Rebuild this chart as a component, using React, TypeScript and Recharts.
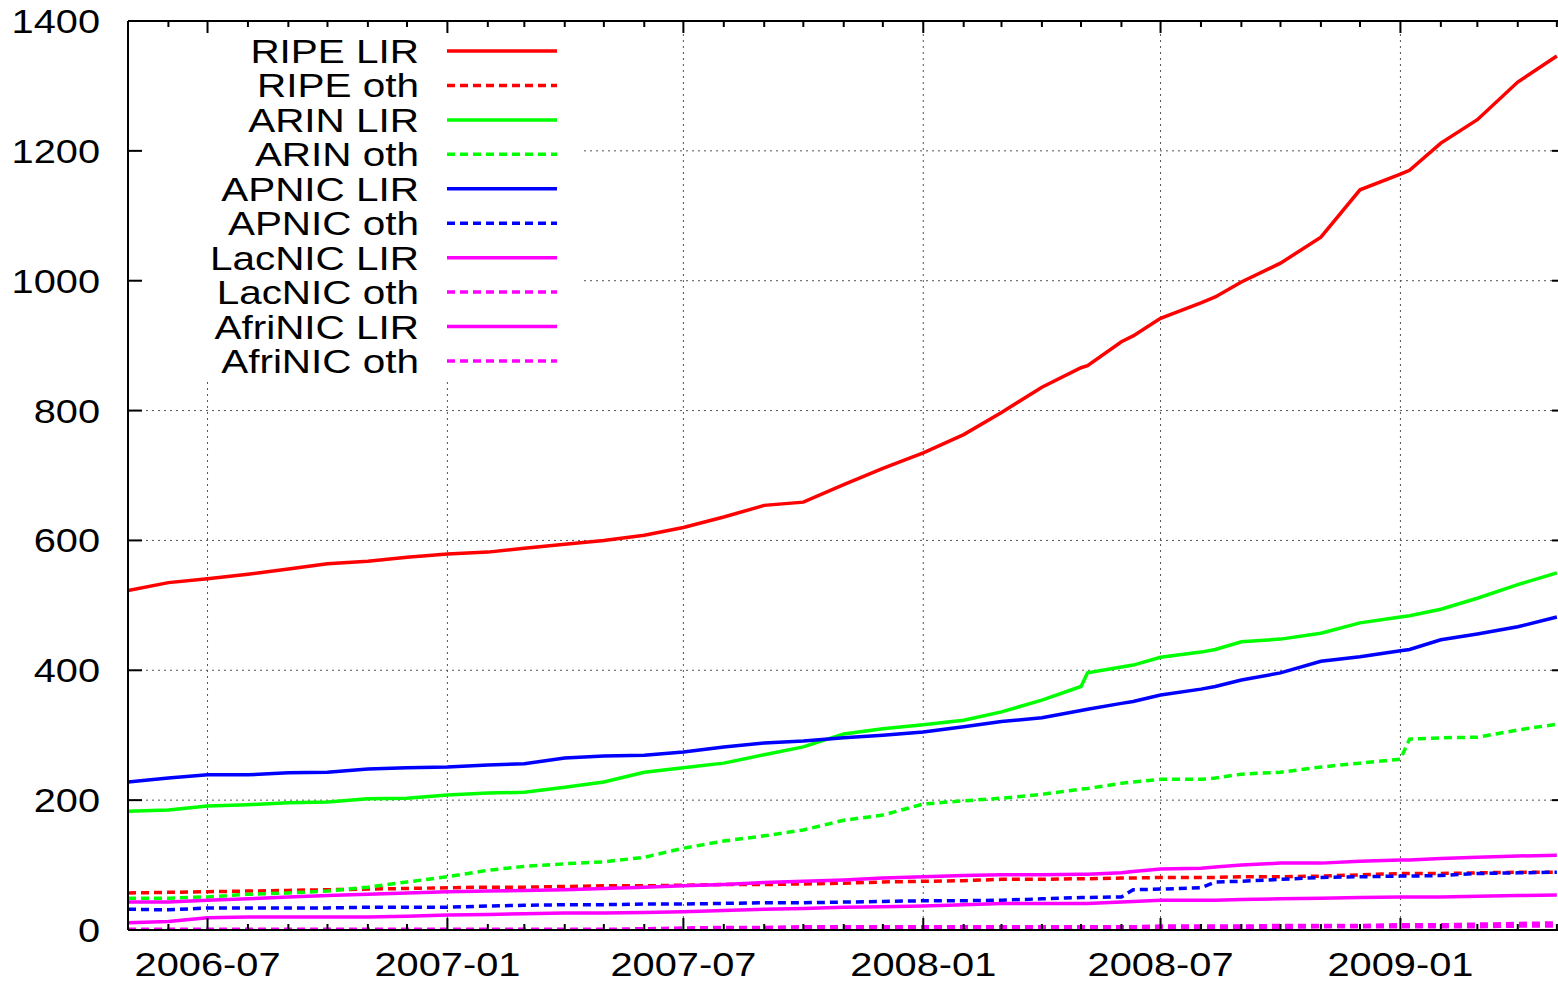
import React from 'react';
import { LineChart, Line, XAxis, YAxis, ReferenceLine, Legend } from 'recharts';

// sample dates (monthly, plus a few extra points where a series jumps)
const dates = [
  '2006-05-01', '2006-06-01', '2006-07-01', '2006-08-01', '2006-09-01', '2006-10-01', '2006-11-01', '2006-12-01',
  '2007-01-01', '2007-02-01', '2007-03-01', '2007-04-01', '2007-05-01', '2007-06-01', '2007-07-01', '2007-08-01',
  '2007-09-01', '2007-10-01', '2007-11-01', '2007-12-01', '2008-01-01', '2008-02-01', '2008-03-01', '2008-04-01',
  '2008-05-01', '2008-05-06', '2008-06-01', '2008-06-10', '2008-07-01', '2008-08-01', '2008-08-12', '2008-09-01',
  '2008-10-01', '2008-11-01', '2008-12-01', '2009-01-01', '2009-01-08', '2009-02-01', '2009-03-01', '2009-04-01',
  '2009-05-01',
];

const ripeLir = [523, 535, 541, 548, 556, 564, 568, 574, 579, 582, 588, 594, 600, 608, 620, 636, 654, 659, 686, 711, 735, 763, 797, 836, 866, 869, 906, 915, 942, 966, 975, 998, 1027, 1067, 1140, 1164, 1170, 1212, 1248, 1306, 1346];
const ripeOth = [57, 58, 59, 60, 61, 62, 63, 64, 65, 66, 66, 67, 68, 68, 69, 70, 70, 71, 72, 74, 75, 76, 78, 78, 79, 79, 80, 80, 81, 81, 81, 82, 82, 83, 85, 87, 87, 87, 88, 89, 89];
const arinLir = [183, 185, 191, 193, 196, 197, 202, 203, 208, 211, 212, 220, 228, 243, 250, 257, 270, 282, 302, 310, 316, 323, 336, 354, 375, 396, 405, 408, 420, 428, 432, 444, 448, 457, 473, 482, 484, 494, 511, 532, 550];
const arinOth = [49, 49, 51, 55, 57, 60, 66, 74, 82, 92, 98, 102, 105, 112, 126, 137, 145, 154, 169, 177, 194, 199, 203, 209, 217, 218, 226, 228, 232, 232, 234, 240, 243, 251, 257, 263, 294, 296, 297, 308, 317];
const apnicLir = [228, 234, 239, 239, 242, 243, 248, 250, 251, 254, 256, 265, 268, 269, 274, 282, 288, 291, 296, 300, 305, 313, 321, 327, 338, 340, 349, 352, 362, 371, 375, 385, 396, 414, 421, 430, 432, 447, 456, 467, 482];
const apnicOth = [32, 31, 34, 34, 34, 34, 35, 35, 35, 37, 38, 39, 39, 40, 40, 41, 42, 42, 43, 44, 45, 45, 46, 48, 50, 50, 51, 62, 63, 65, 74, 75, 78, 81, 82, 83, 83, 84, 87, 88, 89];
const lacnicLir = [43, 43, 46, 48, 51, 53, 55, 57, 59, 60, 61, 62, 64, 66, 68, 70, 73, 75, 77, 80, 82, 84, 85, 85, 86, 86, 88, 90, 94, 95, 97, 100, 103, 103, 106, 108, 108, 110, 112, 114, 115];
const lacnicOth = [1, 1, 1, 1, 1, 1, 1, 1, 1, 1, 1, 1, 1, 2, 3, 4, 4, 5, 5, 5, 5, 5, 5, 5, 5, 5, 5, 5, 6, 6, 6, 6, 7, 7, 7, 8, 8, 8, 9, 10, 11];
const afrinicLir = [11, 13, 19, 20, 20, 20, 20, 21, 23, 24, 25, 26, 26, 27, 28, 30, 32, 33, 35, 36, 37, 39, 41, 41, 41, 41, 43, 44, 46, 46, 46, 47, 48, 49, 50, 51, 51, 51, 52, 53, 54];
const afrinicOth = [0, 0, 0, 0, 0, 0, 0, 0, 0, 0, 0, 0, 0, 0, 0, 0, 0, 0, 1, 3, 3, 4, 4, 4, 4, 4, 4, 4, 4, 4, 4, 4, 4, 5, 5, 5, 5, 5, 5, 6, 6];

const majorTickLabels = ['2006-07', '2007-01', '2007-07', '2008-01', '2008-07', '2009-01'];
const yTicks = [0, 200, 400, 600, 800, 1000, 1200, 1400];

const series = [
  { key: 'ripeLir', name: 'RIPE LIR', color: '#ff0000', dashed: false, values: ripeLir },
  { key: 'ripeOth', name: 'RIPE oth', color: '#ff0000', dashed: true, values: ripeOth },
  { key: 'arinLir', name: 'ARIN LIR', color: '#00ff00', dashed: false, values: arinLir },
  { key: 'arinOth', name: 'ARIN oth', color: '#00ff00', dashed: true, values: arinOth },
  { key: 'apnicLir', name: 'APNIC LIR', color: '#0000ff', dashed: false, values: apnicLir },
  { key: 'apnicOth', name: 'APNIC oth', color: '#0000ff', dashed: true, values: apnicOth },
  { key: 'lacnicLir', name: 'LacNIC LIR', color: '#ff00ff', dashed: false, values: lacnicLir },
  { key: 'lacnicOth', name: 'LacNIC oth', color: '#ff00ff', dashed: true, values: lacnicOth },
  { key: 'afrinicLir', name: 'AfriNIC LIR', color: '#ff00ff', dashed: false, values: afrinicLir },
  { key: 'afrinicOth', name: 'AfriNIC oth', color: '#ff00ff', dashed: true, values: afrinicOth },
];

const data = dates.map((d, i) => {
  const row: Record<string, number> = { t: Date.parse(d) };
  series.forEach((s) => {
    row[s.key] = s.values[i];
  });
  return row;
});

const xDomain = [Date.UTC(2006, 4, 1), Date.UTC(2009, 4, 8)];
const majorTicks = majorTickLabels.map((l) => Date.parse(l + '-01'));
const monthTicks: number[] = [];
for (let i = 0; i <= 36; i++) monthTicks.push(Date.UTC(2006, 4 + i, 1));

// layout (gnuplot-like frame)
const PLOT_LEFT = 128;
const PLOT_TOP = 21;
const PLOT_BOTTOM = 930;
const PLOT_RIGHT = 1566;
const FONT = '"Liberation Sans", Arial, sans-serif';
const DASH = '8 5';
const LINE_W = 3.5;
const GRID = { stroke: '#555', strokeDasharray: '2 4', strokeWidth: 1 };

const XTick = (props: any) => {
  const { x, payload } = props;
  const idx = majorTicks.indexOf(payload.value);
  const len = idx >= 0 ? 12 : 6;
  return (
    <g>
      <line x1={x} y1={PLOT_BOTTOM} x2={x} y2={PLOT_BOTTOM - len} stroke="#000" strokeWidth={2} />
      <line x1={x} y1={PLOT_TOP} x2={x} y2={PLOT_TOP + len} stroke="#000" strokeWidth={2} />
      {idx >= 0 && (
        <text
          transform={`translate(${x},${PLOT_BOTTOM + 46}) scale(1.17,1)`}
          textAnchor="middle"
          fontFamily={FONT}
          fontSize={34}
          fill="#000"
        >
          {majorTickLabels[idx]}
        </text>
      )}
    </g>
  );
};

const YTick = (props: any) => {
  const { y, payload } = props;
  return (
    <g>
      <line x1={PLOT_LEFT} y1={y} x2={PLOT_LEFT + 14} y2={y} stroke="#000" strokeWidth={2} />
      <line x1={PLOT_RIGHT} y1={y} x2={PLOT_RIGHT - 14} y2={y} stroke="#000" strokeWidth={2} />
      <text
        transform={`translate(100,${y + 12}) scale(1.17,1)`}
        textAnchor="end"
        fontFamily={FONT}
        fontSize={34}
        fill="#000"
      >
        {payload.value}
      </text>
    </g>
  );
};

// legend svg sits at (143, 23); its white box starts 11px lower so the top ticks stay visible
const renderLegend = () => (
  <svg width={437} height={358} style={{ display: 'block', overflow: 'visible' }}>
    <rect x={0} y={11} width={437} height={344} fill="#fff" />
    {series.map((s, i) => {
      const cy = 28 + i * 34.44;
      return (
        <g key={s.key}>
          <text
            transform={`translate(276,${cy + 12}) scale(1.19,1)`}
            textAnchor="end"
            fontFamily={FONT}
            fontSize={34}
            fill="#000"
          >
            {s.name}
          </text>
          <line
            x1={304}
            x2={414}
            y1={cy}
            y2={cy}
            stroke={s.color}
            strokeWidth={LINE_W}
            strokeDasharray={s.dashed ? DASH : undefined}
          />
        </g>
      );
    })}
  </svg>
);

export default function App() {
  return (
    <div
      style={{
        position: 'absolute',
        left: 0,
        top: 0,
        width: 1558,
        height: 983,
        overflow: 'hidden',
        background: '#fff',
      }}
    >
      <LineChart width={1567} height={983} data={data} margin={{ top: 21, right: 1, bottom: 0, left: 0 }}>
        <XAxis
          dataKey="t"
          type="number"
          domain={xDomain}
          ticks={monthTicks}
          interval={0}
          tickSize={0}
          tickMargin={0}
          tickLine={false}
          axisLine={{ stroke: '#000', strokeWidth: 2 }}
          height={53}
          tick={XTick}
          allowDataOverflow
        />
        <YAxis
          type="number"
          domain={[0, 1400]}
          ticks={yTicks}
          interval={0}
          tickSize={0}
          tickMargin={0}
          tickLine={false}
          axisLine={{ stroke: '#000', strokeWidth: 2 }}
          width={128}
          tick={YTick}
          allowDataOverflow
        />

        {/* dotted grid */}
        {yTicks.slice(1, -1).map((v) => (
          <ReferenceLine key={'gy' + v} y={v} {...GRID} />
        ))}
        {majorTicks.map((v) => (
          <ReferenceLine key={'gx' + v} x={v} {...GRID} />
        ))}
        {/* top border */}
        <ReferenceLine y={1400} stroke="#000" strokeWidth={2} />

        {series.map((s) => (
          <Line
            key={s.key}
            dataKey={s.key}
            name={s.name}
            type="linear"
            stroke={s.color}
            strokeWidth={LINE_W}
            strokeDasharray={s.dashed ? DASH : undefined}
            dot={false}
            activeDot={false}
            isAnimationActive={false}
          />
        ))}

        <Legend
          layout="vertical"
          align="center"
          verticalAlign="middle"
          content={renderLegend}
          wrapperStyle={{ left: 143, top: 23, width: 437, height: 358 }}
        />
      </LineChart>
    </div>
  );
}
